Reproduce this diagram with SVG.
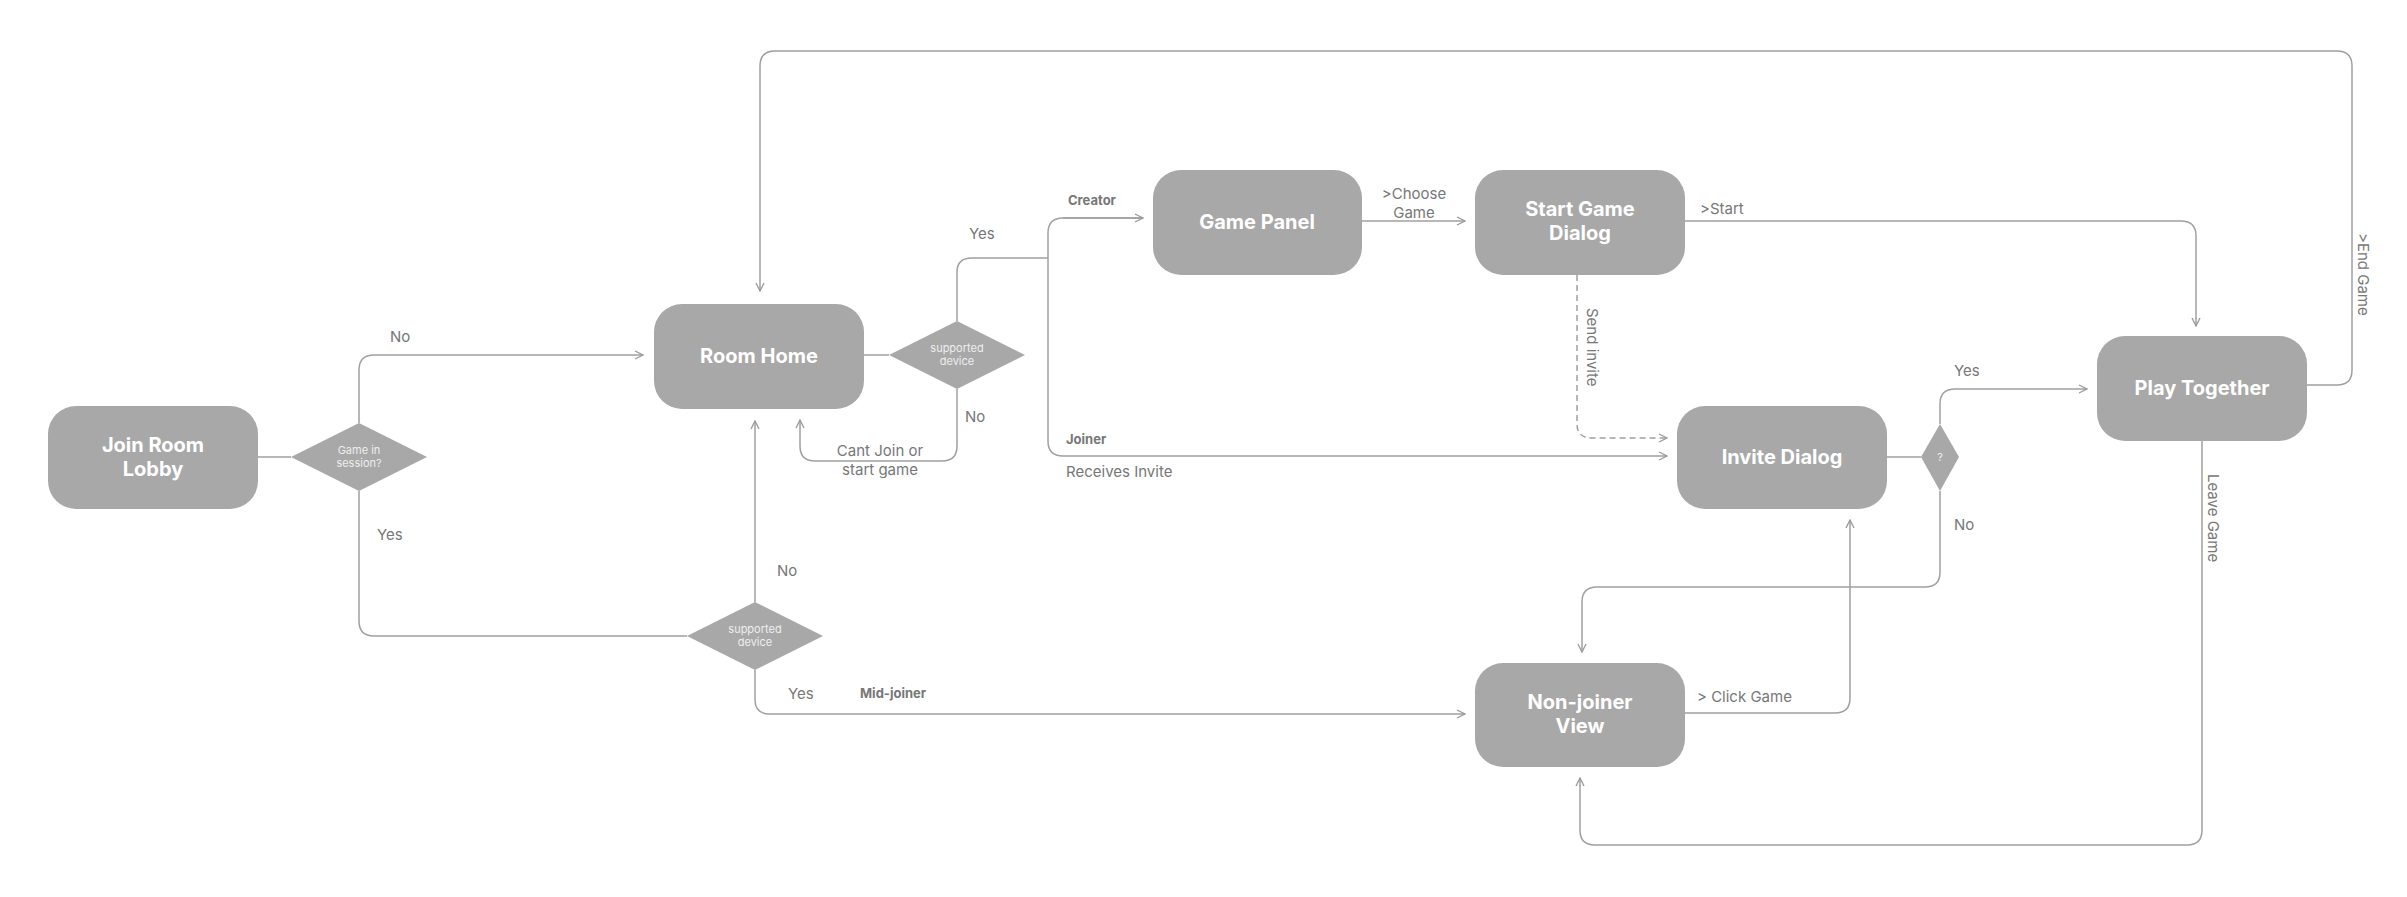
<svg xmlns="http://www.w3.org/2000/svg" width="2407" height="897" viewBox="0 0 2407 897">
<style>
.n{fill:#a8a8a8}
.nt{fill:#fff;font-family:Inter,"Liberation Sans",sans-serif;font-weight:700;font-size:20px;text-anchor:middle}
.dt{fill:#eee;font-family:Inter,"Liberation Sans",sans-serif;font-size:11px;text-anchor:middle}
.c{fill:none;stroke:#a0a0a0;stroke-width:1.5}
.d{stroke-dasharray:6 4}
.l{fill:#777;font-family:Inter,"Liberation Sans",sans-serif;font-size:15px}
.b{font-weight:700;font-size:13px}
</style>
<defs><marker id="a" viewBox="0 0 10 10" refX="9" refY="5" markerWidth="10" markerHeight="10" orient="auto" markerUnits="userSpaceOnUse"><path d="M1 1L9 5L1 9" fill="none" stroke="#999" stroke-width="1.3"/></marker></defs>
<rect width="2407" height="897" fill="#fff"/>
<g id="connectors">
<path class="c" d="M258 457H291"/>
<path class="c" d="M359 423V370Q359 355 374 355H643" marker-end="url(#a)"/>
<path class="c" d="M359 491V621Q359 636 374 636H687"/>
<path class="c" d="M755 602V421" marker-end="url(#a)"/>
<path class="c" d="M755 670V700Q755 714 770 714H1465" marker-end="url(#a)"/>
<path class="c" d="M864 355H889"/>
<path class="c" d="M957 321V272Q957 258 972 258H1048"/>
<path class="c" d="M1143 218H1063Q1048 218 1048 233V441Q1048 456 1063 456H1667" marker-end="url(#a)"/>
<path class="c" d="M1063 218H1143" marker-end="url(#a)"/>
<path class="c" d="M957 389V446Q957 461 942 461H815Q800 461 800 446V420" marker-end="url(#a)"/>
<path class="c" d="M1362 221H1465" marker-end="url(#a)"/>
<path class="c" d="M1685 221H2181Q2196 221 2196 236V326" marker-end="url(#a)"/>
<path class="c d" d="M1577 275V424Q1577 438 1592 438H1667" marker-end="url(#a)"/>
<path class="c" d="M1887 457H1921"/>
<path class="c" d="M1940 424V404Q1940 389 1955 389H2087" marker-end="url(#a)"/>
<path class="c" d="M1940 491V572Q1940 587 1925 587H1597Q1582 587 1582 602V652" marker-end="url(#a)"/>
<path class="c" d="M1685 713H1835Q1850 713 1850 698V520" marker-end="url(#a)"/>
<path class="c" d="M2202 441V830Q2202 845 2187 845H1595Q1580 845 1580 830V778" marker-end="url(#a)"/>
<path class="c" d="M2307 385H2337Q2352 385 2352 370V66Q2352 51 2337 51H775Q760 51 760 66V291" marker-end="url(#a)"/>
</g>
<g id="labels">
<text class="l" x="390" y="342">No</text>
<text class="l" x="377" y="540">Yes</text>
<text class="l" x="777" y="576">No</text>
<text class="l" x="788" y="699">Yes</text>
<text class="l b" x="860" y="698">Mid-joiner</text>
<text class="l" x="969" y="239">Yes</text>
<text class="l" x="965" y="422">No</text>
<text class="l" x="880" y="456" text-anchor="middle">Cant Join or</text>
<text class="l" x="880" y="475" text-anchor="middle">start game</text>
<text class="l b" x="1068" y="205">Creator</text>
<text class="l b" x="1066" y="444">Joiner</text>
<text class="l" x="1066" y="477">Receives Invite</text>
<text class="l" x="1414" y="199" text-anchor="middle">&gt;Choose</text>
<text class="l" x="1414" y="218" text-anchor="middle">Game</text>
<text class="l" x="1700" y="214">&gt;Start</text>
<text class="l" transform="translate(1587 308) rotate(90)">Send invite</text>
<text class="l" x="1954" y="376">Yes</text>
<text class="l" x="1954" y="530">No</text>
<text class="l" x="1697" y="702">&gt; Click Game</text>
<text class="l" transform="translate(2208 474) rotate(90)">Leave Game</text>
<text class="l" transform="translate(2358 233) rotate(90)">&gt;End Game</text>
</g>
<g id="lobby"><rect class="n" x="48" y="406" width="210" height="103" rx="28"/><text class="nt" x="153" y="452">Join Room</text><text class="nt" x="153" y="476">Lobby</text></g>
<g id="session"><path class="n" d="M291 457L359 423L427 457L359 491Z"/><text class="dt" x="359" y="454">Game in</text><text class="dt" x="359" y="467">session?</text></g>
<g id="roomhome"><rect class="n" x="654" y="304" width="210" height="105" rx="28"/><text class="nt" x="759" y="363">Room Home</text></g>
<g id="supported1"><path class="n" d="M889 355L957 321L1025 355L957 389Z"/><text class="dt" x="957" y="352">supported</text><text class="dt" x="957" y="365">device</text></g>
<g id="supported2"><path class="n" d="M687 636L755 602L823 636L755 670Z"/><text class="dt" x="755" y="633">supported</text><text class="dt" x="755" y="646">device</text></g>
<g id="gamepanel"><rect class="n" x="1153" y="170" width="209" height="105" rx="28"/><text class="nt" x="1257" y="229">Game Panel</text></g>
<g id="startgame"><rect class="n" x="1475" y="170" width="210" height="105" rx="28"/><text class="nt" x="1580" y="216">Start Game</text><text class="nt" x="1580" y="240">Dialog</text></g>
<g id="invite"><rect class="n" x="1677" y="406" width="210" height="103" rx="28"/><text class="nt" x="1782" y="464">Invite Dialog</text></g>
<g id="q"><path class="n" d="M1921 457L1940 424L1959 457L1940 491Z"/><text class="dt" x="1940" y="461">?</text></g>
<g id="play"><rect class="n" x="2097" y="336" width="210" height="105" rx="28"/><text class="nt" x="2202" y="395">Play Together</text></g>
<g id="nonjoiner"><rect class="n" x="1475" y="663" width="210" height="104" rx="28"/><text class="nt" x="1580" y="709">Non-joiner</text><text class="nt" x="1580" y="733">View</text></g>
</svg>
